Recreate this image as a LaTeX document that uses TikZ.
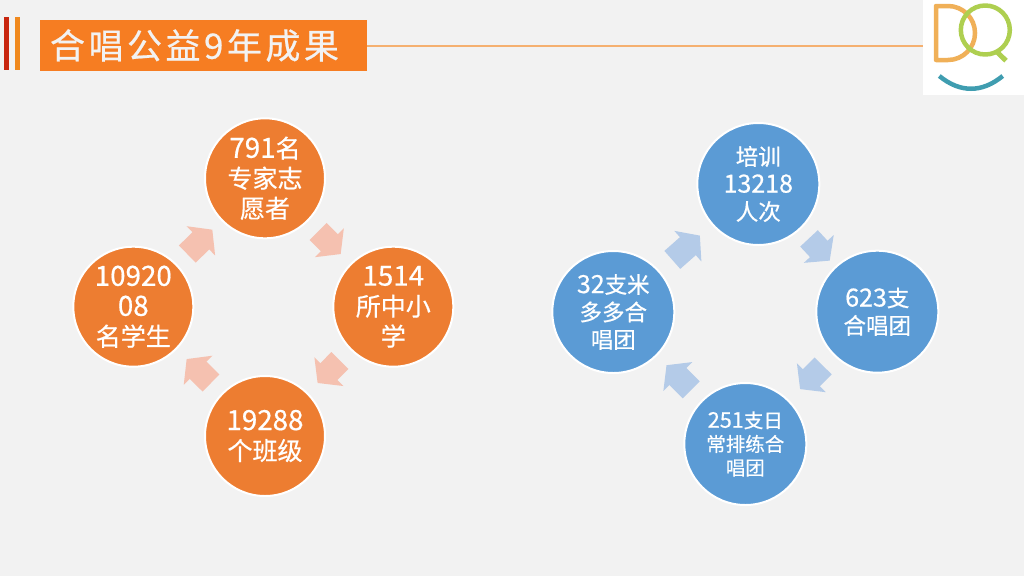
\documentclass[tikz,border=0pt]{standalone}
\usepackage{fontspec}
\setmainfont{Noto Sans CJK SC}[FakeBold=0.6]
\newfontfamily\numf[Scale=1.11,FakeBold=0.6]{Noto Sans CJK SC}
\newcommand{\Nm}[1]{{\numf #1}}
\usetikzlibrary{arrows.meta,calc}
\definecolor{bgc}{HTML}{F2F2F2}
\definecolor{orf}{HTML}{ED7D31}
\definecolor{bluf}{HTML}{5B9BD5}
\definecolor{ora}{HTML}{F5C1B0}
\definecolor{blua}{HTML}{B4CBE8}
\definecolor{titlec}{HTML}{F67D22}
\definecolor{barr}{HTML}{C8260F}
\definecolor{baro}{HTML}{F0891E}
\definecolor{ruleorange}{HTML}{F5B070}
\definecolor{logod}{HTML}{F0B058}
\definecolor{logoq}{HTML}{AECF50}
\definecolor{logos}{HTML}{3F9DB0}
\tikzset{
 disc/.style={circle,draw=white,line width=2pt,inner sep=0pt,outer sep=0pt,minimum size=#1,text=white,align=center},
 orangedisc/.style={disc=120pt,fill=orf,font=\fontsize{25}{30}\selectfont},
 bluedisc/.style={disc=122pt,fill=bluf,font=\fontsize{22.5}{27.5}\selectfont},
 smalldisc/.style={disc=122pt,fill=bluf,font=\fontsize{19.5}{23.7}\selectfont},
 blockarrow/.style={draw=#1,line width=24pt,-{Triangle[length=16pt,width=40pt,color=#1]}},
 bar/.style={rectangle,inner sep=0pt,outer sep=0pt,minimum width=5pt,minimum height=53pt,anchor=north west},
 logostroke/.style={line width=4.5pt,line cap=round,line join=round},
}
\begin{document}
\begin{tikzpicture}[x=1pt,y=-1pt]
\useasboundingbox[fill=bgc] (0,0) rectangle (1024,576);
% header
\node[bar,fill=barr] (barA) at (4,17) {};
\node[bar,fill=baro] (barB) at (15,17) {};
\node[rectangle,anchor=north west,fill=white,inner sep=0pt,outer sep=0pt,minimum width=101pt,minimum height=95pt] (logobox) at (923,0) {};
\node[rectangle,anchor=north west,fill=titlec,inner sep=0pt,outer sep=0pt,minimum width=327.5pt,minimum height=51pt,text width=306.5pt,align=left,text=bgc,font=\fontsize{35}{38}\selectfont\addfontfeature{LetterSpace=10}] (title) at (39.5,20) {合唱公益9年成果};
\draw[draw=ruleorange,line width=2pt] (title.east) -- (title.east -| logobox.west);
% logo
\draw[logod,logostroke] (948,6) -- (936,6) -- (936,60) -- (948,60) arc[start angle=90,end angle=-90,radius=27];
\draw[logoq,logostroke] (985.3,30) circle[radius=24.5];
\draw[logoq,line width=5pt] (996.7,51.7) -- (1006,60.7);
\draw[logos,line width=4.5pt] (939.3,76) .. controls (960,93) and (982,93) .. (1002.7,76);
% left cycle
\node[orangedisc] (o1) at (265,178.3) {\Nm{791}名\\专家志\\愿者};
\node[orangedisc] (o2) at (393.3,306.7) {\Nm{1514}\\所中小\\学};
\node[orangedisc] (o3) at (265,436) {\Nm{19288}\\个班级};
\node[orangedisc] (o4) at (133.3,306.7) {\Nm{10920}\\\Nm{08}\\名学生};
\draw[blockarrow=ora] ($(o1)!0.414!(o2)$) -- ($(o1)!0.59!(o2)$);
\draw[blockarrow=ora] ($(o2)!0.416!(o3)$) -- ($(o2)!0.59!(o3)$);
\draw[blockarrow=ora] ($(o3)!0.41!(o4)$) -- ($(o3)!0.595!(o4)$);
\draw[blockarrow=ora] ($(o4)!0.41!(o1)$) -- ($(o4)!0.6!(o1)$);
% right cycle
\node[bluedisc] (b1) at (758.3,184) {培训\\\Nm{13218}\\人次};
\node[bluedisc] (b2) at (877.3,311.7) {\Nm{623}支\\合唱团};
\node[smalldisc] (b3) at (745.3,444) {\Nm{251}支日\\常排练合\\唱团};
\node[bluedisc] (b4) at (613.3,312) {\Nm{32}支米\\多多合\\唱团};
\draw[blockarrow=blua] ($(b1)!0.426!(b2)$) -- ($(b1)!0.6!(b2)$);
\draw[blockarrow=blua] ($(b2)!0.41!(b3)$) -- ($(b2)!0.585!(b3)$);
\draw[blockarrow=blua] ($(b3)!0.41!(b4)$) -- ($(b3)!0.597!(b4)$);
\draw[blockarrow=blua] ($(b4)!0.407!(b1)$) -- ($(b4)!0.597!(b1)$);
\end{tikzpicture}
\end{document}
